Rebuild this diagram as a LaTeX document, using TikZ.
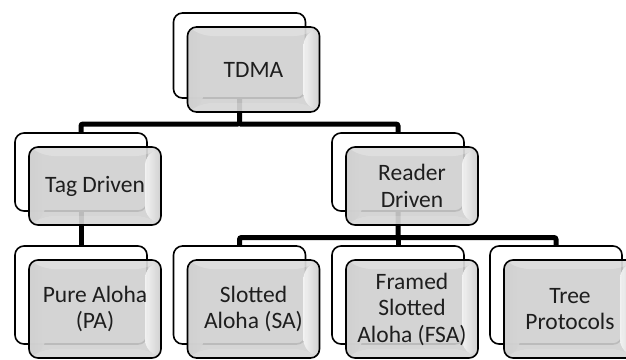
\documentclass[tikz,border=0pt]{standalone}
\usepackage{fontspec}
\setmainfont{Carlito}
\usetikzlibrary{backgrounds}
\definecolor{cardgray}{RGB}{208,208,208}
\definecolor{bevellight}{RGB}{246,246,246}
\definecolor{cardtext}{RGB}{30,30,30}
\tikzset{
  back/.style={draw, line width=1.6pt, rounded corners=9pt, fill=white,
    minimum width=132pt},
  card/.style={draw, line width=1.6pt, rounded corners=9pt, fill=cardgray,
    fill opacity=0.9, text opacity=1, text=cardtext, minimum width=132pt,
    align=center, font=\fontsize{23.5}{26.5}\selectfont,
    path picture={
      % left and right bevel
      \shade[left color=cardgray, right color=bevellight]
        (path picture bounding box.north west)
        -- ([shift={(16pt,-9pt)}]path picture bounding box.north west)
        -- ([shift={(16pt,9pt)}]path picture bounding box.south west)
        -- (path picture bounding box.south west) -- cycle;
      \shade[left color=bevellight, right color=cardgray]
        (path picture bounding box.north east)
        -- ([shift={(-16pt,-9pt)}]path picture bounding box.north east)
        -- ([shift={(-16pt,9pt)}]path picture bounding box.south east)
        -- (path picture bounding box.south east) -- cycle;
      % top and bottom bevel
      \fill[white, opacity=0.25]
        (path picture bounding box.north west)
        -- ([shift={(16pt,-9pt)}]path picture bounding box.north west)
        -- ([shift={(-16pt,-9pt)}]path picture bounding box.north east)
        -- (path picture bounding box.north east) -- cycle;
      \fill[white, opacity=0.15]
        (path picture bounding box.south west)
        -- ([shift={(16pt,9pt)}]path picture bounding box.south west)
        -- ([shift={(-16pt,9pt)}]path picture bounding box.south east)
        -- (path picture bounding box.south east) -- cycle;
    }},
  rowone/.style={minimum height=85pt},
  rowtwo/.style={minimum height=78pt},
  rowthree/.style={minimum height=98pt},
  link/.style={line width=5pt, rounded corners=2pt},
}
\begin{document}
\begin{tikzpicture}[x=1pt,y=-1pt]
    \useasboundingbox (0,0) rectangle (626,359);
    % junctions of the two bars
    \coordinate (j1) at (239.5,124);
    \coordinate (j2) at (398,237.5);
    % back plates
    \node (tdma-b) at (239.5,55.5) [back,rowone] {};
    \node (tag-b) at (81,172) [back,rowtwo] {};
    \node (reader-b) at (398,172) [back,rowtwo] {};
    \node (pa-b) at (81,295) [back,rowthree] {};
    \node (sa-b) at (239.5,295) [back,rowthree] {};
    \node (fsa-b) at (398,295) [back,rowthree] {};
    \node (tree-b) at (556,295) [back,rowthree] {};
    % links go behind the plates
    \begin{scope}[on background layer]
    \draw[link] (tdma-b.center) -- (j1) -| (tag-b.center);
    \draw[link] (j1) -| (reader-b.center);
    \draw[link] (tag-b.center) -- (pa-b.center);
    \draw[link] (reader-b.center) -- (j2) -| (sa-b.center);
    \draw[link] (j2) -| (tree-b.center);
    \draw[link] (j2) -- (fsa-b.center);
    \end{scope}
    % front cards
    \node (tdma) at (253.5,69.5) [card,rowone] {TDMA};
    \node (tag) at (95,186) [card,rowtwo] {Tag Driven};
    \node (reader) at (412,186) [card,rowtwo] {Reader\\Driven};
    \node (pa) at (95,309) [card,rowthree] {Pure Aloha\\(PA)};
    \node (sa) at (253.5,309) [card,rowthree] {Slotted\\Aloha (SA)};
    \node (fsa) at (412,309) [card,rowthree] {Framed\\Slotted\\Aloha (FSA)};
    \node (tree) at (570,309) [card,rowthree] {Tree\\Protocols};
\end{tikzpicture}
\end{document}
